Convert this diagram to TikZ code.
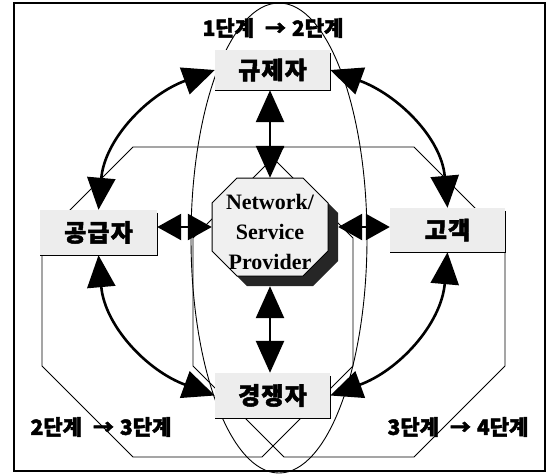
\documentclass[tikz,border=0pt]{standalone}
\usepackage{fontspec}
\newfontfamily\kr{Noto Sans CJK KR}[BoldFeatures={FakeBold=2}]
\newfontfamily\krw{Noto Sans CJK KR}[LetterSpace=5,BoldFeatures={FakeBold=2}]
\newfontfamily\tnr{Liberation Serif}
\usetikzlibrary{arrows.meta}
\begin{document}
\begin{tikzpicture}[x=1pt,y=1pt,
  thinline/.style={line width=0.9pt},
  boxnode/.style={fill=gray!14, minimum width=115pt, minimum height=43pt, inner sep=0pt, font=\krw\bfseries\fontsize{24}{24}\selectfont},
  biarrow/.style={line width=2.6pt, {Triangle[length=32pt,width=28pt]}-{Triangle[length=32pt,width=28pt]}},
  sharrow/.style={line width=2.6pt, {Triangle[length=24pt,width=26pt]}-{Triangle[length=24pt,width=26pt]}},
  stage/.style={font=\kr\bfseries\fontsize{21}{21}\selectfont, inner sep=0pt},
]
\useasboundingbox (0,0) rectangle (548,-474);
% frame
\draw[line width=1.2pt] (14,-3) rectangle (545,-471);
% stage 1->2 ellipse
\draw[thinline] (279,-238) ellipse [x radius=88, y radius=235];
% stage 2->3 polygon
\draw[thinline] (133,-147) -- (262,-147) -- (353,-238) -- (353,-366) -- (262,-457) -- (133,-457) -- (42,-366) -- (42,-238) -- cycle;
% stage 3->4 polygon
\draw[thinline] (284,-147) -- (414,-147) -- (505,-238) -- (505,-366) -- (414,-457) -- (284,-457) -- (193,-366) -- (193,-238) -- cycle;
% stage labels
\node[stage] (s12) at (273,-28) {1단계\hspace{11pt}→\hspace{6pt}2단계};
\node[stage] (s23) at (101,-427) {2단계\hspace{11pt}→\hspace{6pt}3단계};
\node[stage] (s34) at (458,-427) {3단계\hspace{11pt}→\hspace{6pt}4단계};
% boxes
\node[boxnode, minimum height=40pt] (reg) at (272.5,-70) {규제자};
\node[boxnode, minimum width=117pt, minimum height=45pt] (sup) at (98.5,-232.5) {공급자};
\node[boxnode, minimum height=44pt] (cus) at (447.5,-230) {고객};
\node[boxnode, minimum height=45pt] (com) at (272.5,-395.5) {경쟁자};
\foreach \b in {reg,sup,cus,com}
  \draw[line width=1.2pt] ([yshift=-3pt]\b.north east) -- (\b.south east) -- (\b.south west);
% central octagon with shadow
\fill[black!85, shift={(10,-10)}] (237,-178) -- (303,-178) -- (328,-203) -- (328,-251) -- (303,-276) -- (237,-276) -- (212,-251) -- (212,-203) -- cycle;
\filldraw[fill=gray!12, line width=1pt] (237,-178) -- (303,-178) -- (328,-203) -- (328,-251) -- (303,-276) -- (237,-276) -- (212,-251) -- (212,-203) -- cycle;
\node[minimum width=116pt, minimum height=98pt, inner sep=0pt] (np) at (270,-227) {};
\node[align=center, inner sep=0pt, font=\tnr\bfseries\fontsize{22}{30}\selectfont] (npt) at (270,-232) {Network/\\Service\\Provider};
% straight arrows
\draw[biarrow] (np.north |- reg.south) -- (np.north);
\draw[biarrow] ([yshift=-10pt]np.south) -- (np.south |- com.north);
\draw[sharrow] (np.west -| sup.east) -- (np.west);
\draw[sharrow] ([xshift=10pt]np.east) -- (np.east -| cus.west);
% curved arrows
\draw[biarrow] (sup.north) to[out=85,in=200] (reg.west);
\draw[biarrow] (cus.north) to[out=95,in=-20] (reg.east);
\draw[biarrow] (sup.south) to[out=-85,in=160] (com.west);
\draw[biarrow] (cus.south) to[out=-95,in=20] (com.east);
\end{tikzpicture}
\end{document}
